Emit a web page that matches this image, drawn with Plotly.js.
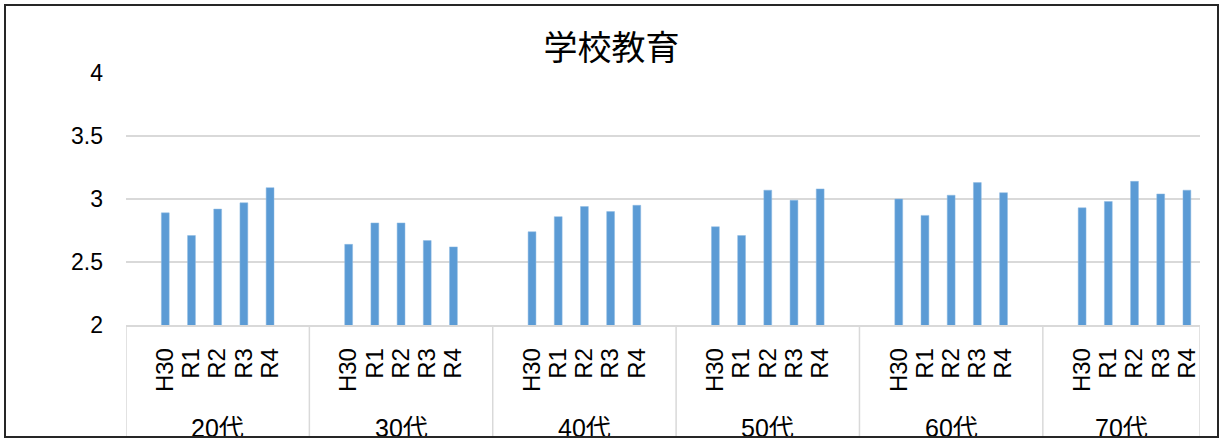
<!DOCTYPE html>
<html>
<head>
<meta charset="utf-8">
<script src="https://cdn.plot.ly/plotly-3.0.1.min.js"></script>
<style>
  html, body { margin: 0; padding: 0; background: #fff; }
  #wrap { position: relative; width: 1223px; height: 438px; overflow: hidden; }
  #chart { position: absolute; left: 0; top: 0; width: 1223px; height: 438px; }
  #frame { position: absolute; left: 4px; top: 4px; width: 1215px; height: 434px;
           box-sizing: border-box; border: 2px solid #262626; pointer-events: none; }
</style>
</head>
<body>
<div id="wrap"><div id="chart"></div><div id="frame"></div></div>
<script>
// ---- data ----
const title = '学校教育';
const groups = ['20代', '30代', '40代', '50代', '60代', '70代'];
const years = ['H30', 'R1', 'R2', 'R3', 'R4'];
const v20 = [2.89, 2.71, 2.92, 2.97, 3.09];
const v30 = [2.64, 2.81, 2.81, 2.67, 2.62];
const v40 = [2.74, 2.86, 2.94, 2.90, 2.95];
const v50 = [2.78, 2.71, 3.07, 2.99, 3.08];
const v60 = [3.00, 2.87, 3.03, 3.13, 3.05];
const v70 = [2.93, 2.98, 3.14, 3.04, 3.07];
const yTicks = [2, 2.5, 3, 3.5, 4];

// ---- build slots: each group = 1 blank + 5 years + 1 blank (last group without trailing blank) ----
const series = [v20, v30, v40, v50, v60, v70];
const slotsPerGroup = years.length + 2;
const x = [], y = [], tickvals = [], ticktext = [];
series.forEach((vals, g) => {
  vals.forEach((v, i) => {
    const pos = g * slotsPerGroup + 1 + i;
    x.push(pos); y.push(v);
    tickvals.push(pos); ticktext.push(years[i]);
  });
});
const nSlots = groups.length * slotsPerGroup - 1;

const gridColor = '#d9d9d9';
const shapes = [];
for (let g = 0; g <= groups.length; g++) {
  const xb = Math.min(g * slotsPerGroup, nSlots) - 0.5;
  shapes.push({type: 'line', xref: 'x', yref: 'paper', x0: xb, x1: xb, y0: 0, y1: -0.6,
               line: {color: gridColor, width: 1.5}});
}
const annotations = groups.map((gname, g) => {
  const start = g * slotsPerGroup - 0.5;
  const end = Math.min((g + 1) * slotsPerGroup, nSlots) - 0.5;
  return {text: gname, xref: 'x', yref: 'paper', x: (start + end) / 2, y: 0,
          yanchor: 'middle', yshift: -103, showarrow: false,
          font: {family: 'Liberation Sans, Noto Sans CJK JP, sans-serif', size: 25, color: '#000'}};
});

const trace = {
  type: 'bar', x: x, y: y, width: 0.3,
  marker: {color: '#5B9BD5', line: {color: '#8fbbe3', width: 0.5}},
  hoverinfo: 'x+y'
};

const layout = {
  width: 1223, height: 438,
  margin: {l: 126, r: 23, t: 73, b: 113},
  paper_bgcolor: '#fff', plot_bgcolor: '#fff',
  showlegend: false,
  title: {text: title, x: 0.5, xref: 'container', xanchor: 'center',
          y: 1 - 48 / 438, yref: 'container', yanchor: 'middle',
          font: {family: 'Noto Sans CJK JP, sans-serif', size: 34, color: '#000'}},
  xaxis: {range: [-0.5, nSlots - 0.5], tickmode: 'array', tickvals: tickvals, ticktext: ticktext,
          tickangle: -90, ticks: '', ticklabelstandoff: 12,
          showgrid: false, zeroline: false, showline: true, linecolor: gridColor, linewidth: 1.5,
          tickfont: {family: 'Liberation Sans, sans-serif', size: 24, color: '#000'}},
  yaxis: {range: [2, 4], tickmode: 'array', tickvals: yTicks, ticktext: yTicks.map(String),
          showgrid: true, gridcolor: gridColor, gridwidth: 1.5, zeroline: false, showline: false,
          ticks: '', ticklabelstandoff: 22,
          tickfont: {family: 'Liberation Sans, sans-serif', size: 23, color: '#000'}},
  shapes: shapes,
  annotations: annotations,
  bargap: 0.7
};

Plotly.newPlot('chart', [trace], layout, {displayModeBar: false, staticPlot: true});
</script>
</body>
</html>
